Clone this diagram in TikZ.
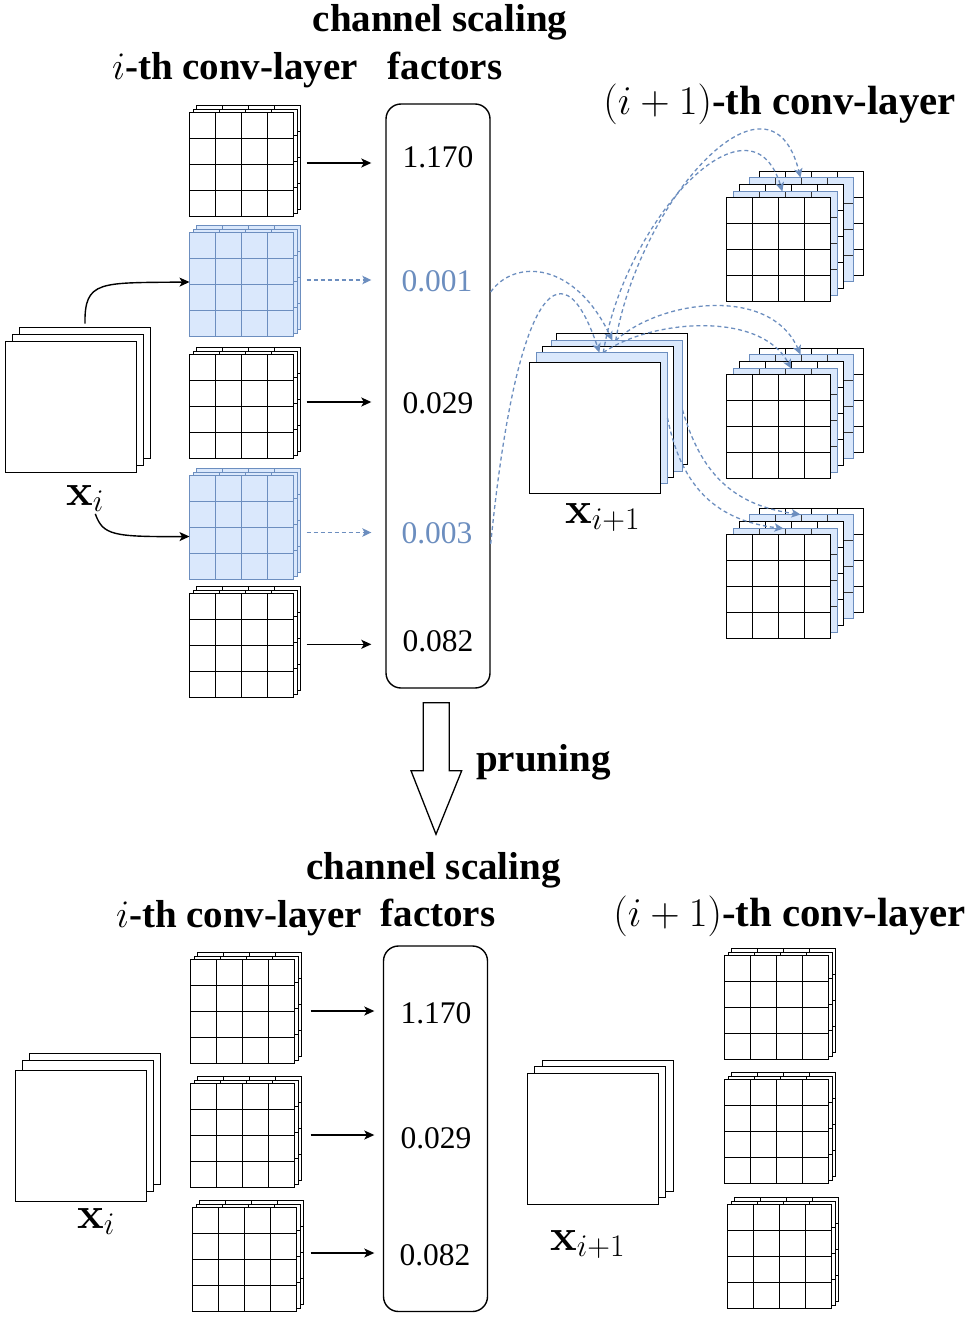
\RequirePackage{fix-cm}
\documentclass[tikz,border=0pt]{standalone}
\usepackage[no-math]{fontspec}
\newfontfamily\tnr{Liberation Serif}
\usetikzlibrary{arrows.meta,calc}
\definecolor{bfill}{HTML}{DAE8FC}
\definecolor{bline}{HTML}{6C8EBF}
\tikzset{
 lay/.style={draw=black, fill=white, line width=1.6pt, inner sep=0pt, outer sep=0pt, anchor=north west, minimum width=104pt, minimum height=104pt},
 glines/.style={path picture={\foreach \k in {1,2,3}{%
   \draw[line width=1.4pt,#1] ($(path picture bounding box.north west)!\k/4!(path picture bounding box.north east)$) -- ($(path picture bounding box.south west)!\k/4!(path picture bounding box.south east)$);
   \draw[line width=1.4pt,#1] ($(path picture bounding box.north west)!\k/4!(path picture bounding box.south west)$) -- ($(path picture bounding box.north east)!\k/4!(path picture bounding box.south east)$);}}},
 wg/.style={lay, glines=black},
 bg/.style={lay, draw=bline, fill=bfill, glines=bline},
 bgk/.style={lay, draw=bline, fill=bfill, glines={black!80}},
 fm/.style={lay, minimum width=131pt, minimum height=131pt},
 bfm/.style={fm, draw=bline, fill=bfill},
 sbox/.style={draw, rounded corners=15pt, line width=1.4pt, inner sep=0pt, minimum width=104pt},
 num/.style={font=\tnr\fontsize{31.5}{36}\selectfont, inner sep=0pt},
 lab/.style={font=\tnr\bfseries\fontsize{39}{46}\selectfont, inner sep=0pt, anchor=base},
 labw/.style={lab, font=\tnr\bfseries\fontsize{40.8}{48}\selectfont},
 xlab/.style={font=\fontsize{45}{54}\selectfont, inner sep=0pt, anchor=base west},
 arr/.style={line width=1.4pt, -{Stealth[length=10pt,width=9pt,inset=2.5pt]}},
 darr/.style={bline, line width=1.3pt, dash pattern=on 4pt off 3pt, -{Stealth[length=9pt,width=8.5pt,inset=2.2pt]}},
}
\newcommand\filtstack[4]{%
  \node[#4] (#1c) at (#2+7,#3-7) {};
  \node[#4] (#1b) at (#2+4,#3-3) {};
  \node[#4] (#1) at (#2,#3) {};}
\newcommand\nextstack[3]{%
  \node[wg] (#1e) at (#2+33,#3-26) {};
  \node[bgk] (#1d) at (#2+23,#3-20) {};
  \node[wg] (#1c) at (#2+13,#3-13) {};
  \node[bgk] (#1b) at (#2+7,#3-6) {};
  \node[wg] (#1) at (#2,#3) {};}
\begin{document}
\begin{tikzpicture}[x=1pt,y=-1pt]
\useasboundingbox (0,0) rectangle (969,1321);
% ---------- top labels
\node[lab] (lcs) at (440,31.5) {channel scaling};
\node[lab] (lfa) at (445,80) {factors};
\node[lab] (lil) at (235,80) {$i$-th conv-layer};
\node[labw] (lnl) at (779.5,115) {$(i+1)$-th conv-layer};
% ---------- x_i (top)
\node[fm] (xi3) at (19.5,327.5) {};
\node[fm] (xi2) at (12.5,334.5) {};
\node[fm] (xi1) at (5.5,341.5) {};
\node[xlab] (xil) at (66,505) {$\mathbf{x}_i$};
% ---------- filters of layer i (top)
\filtstack{f1}{189.5}{112.5}{wg}
\filtstack{f2}{189.5}{232.5}{bg}
\filtstack{f3}{189.5}{354.5}{wg}
\filtstack{f4}{189.5}{475.5}{bg}
\filtstack{f5}{189.5}{593.5}{wg}
% ---------- scaling factors (top)
\node[sbox, minimum height=584pt] (box) at (438,396) {};
\node[num] (v1) at (438,157) {1.170};
\node[num, text=bline] (v2) at (437,281) {0.001};
\node[num] (v3) at (438,403) {0.029};
\node[num, text=bline] (v4) at (437,533) {0.003};
\node[num] (v5) at (438,641) {0.082};
% ---------- x_{i+1} (top)
\node[fm] (xp5) at (556.5,333.5) {};
\node[bfm] (xp4) at (551.5,340.5) {};
\node[fm] (xp3) at (542.5,346.5) {};
\node[bfm] (xp2) at (536.5,352.5) {};
\node[fm] (xp1) at (529.5,362.5) {};
\node[xlab] (xpl) at (565,523) {$\mathbf{x}_{i+1}$};
% ---------- filters of layer i+1 (top)
\nextstack{r1}{726.5}{197.5}
\nextstack{r2}{726.5}{374.5}
\nextstack{r3}{726.5}{534.5}
% ---------- connectors (top)
\draw[arr, shorten <=4pt] (xi3.north) .. controls (84.5,280) and (100,283) .. ([yshift=2.5pt]f2.west);
\draw[arr, shorten <=2pt] ($(xil.south)!0.5!(xil.south east)$) .. controls (103,535) and (112,537) .. ([yshift=-9pt]f4.west);
\path ([yshift=1.5pt]f1.east) coordinate (a1)
      ([yshift=4.5pt]f2.east) coordinate (a2)
      ([yshift=4.5pt]f3.east) coordinate (a3)
      ([yshift=-5pt]f4.east) coordinate (a4)
      ([yshift=1.2pt]f5.east) coordinate (a5);
\draw[arr, shorten <=13pt, shorten >=14pt] (a1) -- (a1 -| box.west);
\draw[darr, shorten <=13pt, shorten >=14pt] (a2) -- (a2 -| box.west);
\draw[arr, shorten <=13pt, shorten >=14pt] (a3) -- (a3 -| box.west);
\draw[darr, shorten <=13pt, shorten >=14pt] (a4) -- (a4 -| box.west);
\draw[arr, shorten <=13pt, shorten >=14pt] (a5) -- (a5 -| box.west);
\draw[darr] (box.east |- v2.south) .. controls (515,258) and (575,262) .. ($(xp4.north west)!0.465!(xp4.north east)$);
\draw[darr] (box.east |- v4.south) .. controls (515,300) and (560,235) .. ($(xp2.north west)!0.48!(xp2.north east)$);
\draw[darr] ($(xp4.north west)!0.49!(xp4.north east)$) .. controls (640,200) and (770,55) .. ($(r1d.north west)!0.49!(r1d.north east)$);
\draw[darr] ($(xp2.north west)!0.51!(xp2.north east)$) .. controls (625,220) and (750,85) .. ($(r1b.north west)!0.47!(r1b.north east)$);
\draw[darr] ($(xp4.north west)!0.49!(xp4.north east)$) .. controls (660,300) and (770,285) .. ($(r2d.north west)!0.49!(r2d.north east)$);
\draw[darr] ($(xp2.north west)!0.51!(xp2.north east)$) .. controls (650,320) and (760,310) .. ($(r2b.north west)!0.555!(r2b.north east)$);
\draw[darr] ($(xp4.north east)!0.53!(xp4.south east)$) .. controls (700,470) and (730,505) .. ($(r3d.north west)!0.49!(r3d.north east)$);
\draw[darr] ($(xp2.north east)!0.5!(xp2.south east)$) .. controls (680,480) and (710,520) .. ($(r3b.north west)!0.48!(r3b.north east)$);
% ---------- pruning arrow
\draw[line width=1.3pt, line join=miter] (423.3,702.7) -- (449.3,702.7) -- (449.3,770.7) -- (461.7,770.7) -- (436,834.3) -- (411,770.7) -- (423.3,770.7) -- cycle;
\node[lab] (lpr) at (543.5,771) {pruning};
% ---------- bottom labels
\node[lab] (mcs) at (433.5,879.5) {channel scaling};
\node[lab] (mfa) at (438,926) {factors};
\node[lab] (mil) at (239,927) {$i$-th conv-layer};
\node[labw] (mnl) at (789.5,926) {$(i+1)$-th conv-layer};
% ---------- x_i (bottom)
\node[fm] (yi3) at (29.5,1053.5) {};
\node[fm] (yi2) at (22.5,1060.5) {};
\node[fm] (yi1) at (15.5,1070.5) {};
\node[xlab] (yil) at (77,1228) {$\mathbf{x}_i$};
% ---------- filters (bottom)
\filtstack{g1}{190.5}{959.5}{wg}
\filtstack{g2}{190.5}{1083.5}{wg}
\filtstack{g3}{192.5}{1207.5}{wg}
\node[sbox, minimum height=365.5pt] (box2) at (435.5,1128.75) {};
\node[num] (w1) at (436,1013) {1.170};
\node[num] (w2) at (436,1138) {0.029};
\node[num] (w3) at (435,1255) {0.082};
\path ([yshift=0.5pt]g1.east) coordinate (b1)
      ([yshift=0.5pt]g2.east) coordinate (b2)
      ([yshift=6.5pt]g3.east) coordinate (b3);
\draw[arr, shorten <=16pt, shorten >=8.5pt] (b1) -- (b1 -| box2.west);
\draw[arr, shorten <=16pt, shorten >=8.5pt] (b2) -- (b2 -| box2.west);
\draw[arr, shorten <=14pt, shorten >=8.5pt] (b3) -- (b3 -| box2.west);
% ---------- x_{i+1} (bottom)
\node[fm] (yp3) at (542.5,1060.5) {};
\node[fm] (yp2) at (534.5,1066.5) {};
\node[fm] (yp1) at (527.5,1073.5) {};
\node[xlab] (ypl) at (550,1250) {$\mathbf{x}_{i+1}$};
\filtstack{h1}{724.5}{955.5}{wg}
\filtstack{h2}{724.5}{1079.5}{wg}
\filtstack{h3}{727.5}{1204.5}{wg}
\end{tikzpicture}
\end{document}
